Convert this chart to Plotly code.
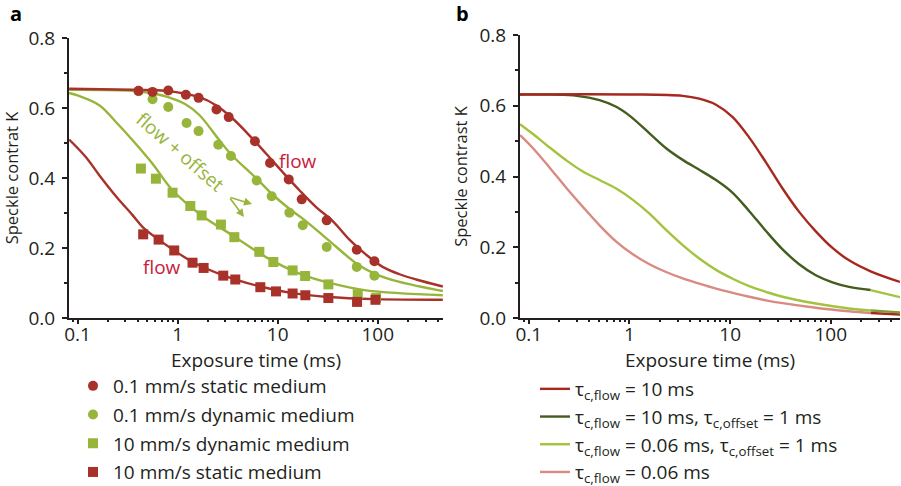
"""Speckle contrast vs exposure time — two panels (a: measured + fits, b: model curves)."""

import plotly.graph_objects as go

# ------------------------------------------------------------------
# Panel a: measured points (exposure ms, speckle contrast K)
# ------------------------------------------------------------------
t_static_slow = [0.407, 0.562, 0.807, 1.21, 1.62, 2.45, 3.24, 5.93, 8.38, 12.9, 17.4, 30.9, 61.7, 92.6]
k_static_slow = [0.649, 0.646, 0.650, 0.638, 0.629, 0.596, 0.574, 0.505, 0.443, 0.396, 0.339, 0.279, 0.195, 0.162]

t_dyn_slow = [0.407, 0.562, 0.807, 1.23, 1.62, 2.55, 3.41, 6.17, 8.71, 13.1, 17.8, 30.9, 61.7, 92.6]
k_dyn_slow = [0.648, 0.625, 0.603, 0.557, 0.534, 0.495, 0.463, 0.393, 0.348, 0.301, 0.265, 0.203, 0.146, 0.121]

t_dyn_fast = [0.43, 0.607, 0.891, 1.34, 1.74, 2.71, 3.69, 6.56, 9.05, 14.1, 18.8, 32.1, 63.1, 96.2]
k_dyn_fast = [0.427, 0.398, 0.358, 0.320, 0.293, 0.267, 0.231, 0.189, 0.160, 0.136, 0.120, 0.096, 0.068, 0.057]

t_static_fast = [0.453, 0.646, 0.926, 1.41, 1.82, 2.86, 3.77, 6.71, 9.62, 14.1, 18.9, 32.1, 62.1, 94.8]
k_static_fast = [0.239, 0.224, 0.193, 0.158, 0.143, 0.121, 0.110, 0.088, 0.076, 0.070, 0.065, 0.057, 0.046, 0.052]

# fitted curves
fit1_t = [0.0825, 0.355, 0.764, 1.65, 2.42, 3.55, 5.21, 7.64, 11.2, 16.5, 24.2, 35.5, 52.1, 76.4, 112, 165, 242, 447]
fit1_k = [0.655, 0.652, 0.649, 0.631, 0.608, 0.570, 0.522, 0.470, 0.417, 0.365, 0.317, 0.277, 0.224, 0.181, 0.146, 0.125, 0.110, 0.090]

fit2_t = [0.0825, 0.355, 0.607, 0.807, 1.21, 1.65, 2.55, 3.41, 6.17, 8.71, 13.1, 17.8, 30.9, 61.7, 92.6, 165, 447]
fit2_k = [0.652, 0.649, 0.640, 0.631, 0.610, 0.580, 0.512, 0.468, 0.398, 0.355, 0.312, 0.284, 0.227, 0.155, 0.127, 0.103, 0.077]

fit3_t = [0.0825, 0.1, 0.165, 0.242, 0.355, 0.562, 0.891, 1.74, 3.55, 7.64, 16.5, 35.5, 76.4, 447]
fit3_k = [0.643, 0.636, 0.608, 0.560, 0.508, 0.441, 0.365, 0.293, 0.236, 0.174, 0.127, 0.098, 0.079, 0.065]

fit4_t = [0.0825, 0.121, 0.165, 0.242, 0.355, 0.453, 0.646, 0.926, 1.41, 2.86, 6.71, 14.1, 32.1, 96.2, 447]
fit4_k = [0.510, 0.460, 0.408, 0.348, 0.294, 0.258, 0.224, 0.193, 0.160, 0.122, 0.090, 0.071, 0.060, 0.054, 0.052]

# ------------------------------------------------------------------
# Panel b: model curves
# ------------------------------------------------------------------
b_red_t = [0.0817, 1, 3.38, 4.94, 7.24, 10.6, 15.5, 22.7, 33.2, 48.5, 71, 104, 152, 249, 487]
b_red_k = [0.632, 0.632, 0.628, 0.620, 0.603, 0.568, 0.510, 0.440, 0.366, 0.300, 0.245, 0.198, 0.163, 0.132, 0.102]

b_dark_t = [0.0817, 0.3, 0.504, 0.738, 1, 1.58, 2.31, 3.38, 4.94, 7.24, 10.6, 15.5, 22.7, 33.2, 48.5, 71, 104, 152, 249]
b_dark_k = [0.632, 0.628, 0.616, 0.597, 0.572, 0.522, 0.480, 0.447, 0.419, 0.390, 0.354, 0.302, 0.246, 0.194, 0.152, 0.121, 0.101, 0.088, 0.079]
b_dark_tail_t = [249, 487]
b_dark_tail_k = [0.079, 0.059]

b_light_t = [0.0817, 0.11, 0.161, 0.235, 0.344, 0.504, 0.738, 1.08, 1.58, 2.31, 3.38, 4.94, 7.24, 10.6, 15.5, 22.7, 33.2, 71, 152, 249]
b_light_k = [0.548, 0.520, 0.482, 0.446, 0.414, 0.390, 0.366, 0.334, 0.295, 0.249, 0.206, 0.168, 0.136, 0.111, 0.090, 0.074, 0.060, 0.041, 0.027, 0.021]
b_light_tail_t = [249, 487]
b_light_tail_k = [0.021, 0.016]

b_pink_t = [0.0817, 0.11, 0.161, 0.235, 0.344, 0.504, 0.738, 1.08, 1.58, 2.31, 3.38, 4.94, 7.24,
            10.6, 15.5, 22.7, 33.2, 71, 152, 249]
b_pink_k = [0.517, 0.480, 0.425, 0.368, 0.314, 0.262, 0.216, 0.180, 0.152, 0.130, 0.112, 0.097, 0.083,
            0.071, 0.060, 0.050, 0.042, 0.029, 0.019, 0.014]
b_pink_tail_t = [249, 487]
b_pink_tail_k = [0.014, 0.010]

x_major = [0.1, 1, 10, 100]
x_major_text = ["0.1", "1", "10", "100"]
x_minor = [0.09, 0.2, 0.3, 0.4, 0.5, 0.6, 0.7, 0.8, 0.9, 2, 3, 4, 5, 6, 7, 8, 9,
           20, 30, 40, 50, 60, 70, 80, 90, 200, 300, 400]
y_major = [0.0, 0.2, 0.4, 0.6, 0.8]
y_major_text = ["0.0", "0.2", "0.4", "0.6", "0.8"]
y_minor = [0.1, 0.3, 0.5, 0.7]

# ------------------------------------------------------------------
# Styling
# ------------------------------------------------------------------
RED = "#A8322A"
GREEN = "#97B53B"
B_RED = "#A6281F"
B_DARK = "#445C1E"
B_LIGHT = "#A3C33E"
B_PINK = "#D98A82"
FLOW_TXT = "#C8203A"
INK = "#231F20"
FONT = "Open Sans"
FS = 19

W, H = 901, 486
A_X = [69 / W, 443 / W]
A_Y = [1 - 318 / H, 1 - 38 / H]
B_X = [520 / W, 900 / W]
B_Y = [1 - 318 / H, 1 - 35 / H]
A_RANGE = [-1.085, 2.652]
B_RANGE = [-1.088, 2.688]

fig = go.Figure()


def marker_trace(x, y, name, color, symbol, rank):
    return go.Scatter(
        x=x, y=y, name=name, mode="markers",
        marker=dict(color=color, symbol=symbol, size=10, line_width=0),
        xaxis="x", yaxis="y", legend="legend", legendrank=rank, legendgroup=name,
    )


def line_trace(x, y, color, xa="x", ya="y", name=None, legend="legend", rank=1000):
    return go.Scatter(
        x=x, y=y, mode="lines", name=name,
        line=dict(color=color, width=2.4, shape="spline", smoothing=1.0),
        xaxis=xa, yaxis=ya, legend=legend, legendrank=rank,
        showlegend=name is not None,
    )


# panel a fits (under markers)
fig.add_trace(line_trace(fit3_t, fit3_k, GREEN))
fig.add_trace(line_trace(fit4_t, fit4_k, RED))
fig.add_trace(line_trace(fit2_t, fit2_k, GREEN))
fig.add_trace(line_trace(fit1_t, fit1_k, RED))

fig.add_trace(marker_trace(t_dyn_slow, k_dyn_slow, "0.1 mm/s dynamic medium", GREEN, "circle", 2))
fig.add_trace(marker_trace(t_static_slow, k_static_slow, "0.1 mm/s static medium", RED, "circle", 1))
fig.add_trace(marker_trace(t_dyn_fast, k_dyn_fast, "10 mm/s dynamic medium", GREEN, "square", 3))
fig.add_trace(marker_trace(t_static_fast, k_static_fast, "10 mm/s static medium", RED, "square", 4))

# panel b curves
fig.add_trace(line_trace(b_pink_t, b_pink_k, B_PINK, "x2", "y2",
                         "τ<sub>c,flow</sub> = 0.06 ms", "legend2", 4))
fig.add_trace(line_trace(b_pink_tail_t, b_pink_tail_k, B_RED, "x2", "y2"))
fig.add_trace(line_trace(b_light_t, b_light_k, B_LIGHT, "x2", "y2",
                         "τ<sub>c,flow</sub> = 0.06 ms, τ<sub>c,offset</sub> = 1 ms", "legend2", 3))
fig.add_trace(line_trace(b_light_tail_t, b_light_tail_k, "#7E9C30", "x2", "y2"))
fig.add_trace(line_trace(b_dark_t, b_dark_k, B_DARK, "x2", "y2",
                         "τ<sub>c,flow</sub> = 10 ms, τ<sub>c,offset</sub> = 1 ms", "legend2", 2))
fig.add_trace(line_trace(b_dark_tail_t, b_dark_tail_k, B_LIGHT, "x2", "y2"))
fig.add_trace(line_trace(b_red_t, b_red_k, B_RED, "x2", "y2",
                         "τ<sub>c,flow</sub> = 10 ms", "legend2", 1))

# ------------------------------------------------------------------
# Axes
# ------------------------------------------------------------------
tickfont = dict(family=FONT, size=FS, color=INK)


def x_axis(domain, rng, anchor, title):
    return dict(
        type="log", domain=domain, range=rng, anchor=anchor,
        tickvals=x_major, ticktext=x_major_text, tickfont=tickfont,
        ticks="outside", ticklen=4, tickwidth=1.5, tickcolor=INK, ticklabelstandoff=-6,
        minor=dict(tickvals=x_minor, ticks="outside", ticklen=2, tickwidth=1.5, tickcolor=INK),
        showline=True, linecolor=INK, linewidth=2, showgrid=False, zeroline=False,
        automargin=False,
        title=dict(text=title, font=dict(family=FONT, size=FS, color=INK), standoff=0),
    )


def y_axis(domain, anchor, title):
    return dict(
        domain=domain, range=[0, 0.8], anchor=anchor,
        tickvals=y_major, ticktext=y_major_text, tickfont=tickfont,
        ticks="outside", ticklen=5, tickwidth=1.5, tickcolor=INK, ticklabelstandoff=3,
        minor=dict(tickvals=y_minor, ticks="outside", ticklen=3, tickwidth=1.5, tickcolor=INK),
        showline=True, linecolor=INK, linewidth=2, showgrid=False, zeroline=False,
        automargin=False,
        title=dict(text=title, font=dict(family=FONT, size=16.5, color=INK), standoff=8),
    )


def top_axis(overlay, rng, anchor):
    return dict(
        type="log", range=rng, overlaying=overlay, side="top", anchor=anchor,
        tickvals=x_major, showticklabels=False, automargin=False,
        ticks="inside", ticklen=4, tickwidth=1.5, tickcolor=INK,
        minor=dict(tickvals=x_minor, ticks="inside", ticklen=2, tickwidth=1.5, tickcolor=INK),
        showline=True, linecolor=INK, linewidth=2, showgrid=False, zeroline=False,
    )


def right_axis(overlay, anchor, line=True):
    return dict(
        range=[0, 0.8], overlaying=overlay, side="right", anchor=anchor,
        tickvals=y_major[1:-1], showticklabels=False, automargin=False,
        ticks="inside", ticklen=5, tickwidth=1.5, tickcolor=INK,
        minor=dict(tickvals=y_minor, ticks="inside", ticklen=3, tickwidth=1.5, tickcolor=INK),
        showline=line, linecolor=INK, linewidth=2, showgrid=False, zeroline=False,
    )


fig.update_layout(
    xaxis=x_axis(A_X, A_RANGE, "y", "Exposure time (ms)"),
    yaxis=y_axis(A_Y, "x", "Speckle contrat K"),
    xaxis2=x_axis(B_X, B_RANGE, "y2", "Exposure time (ms)"),
    yaxis2=y_axis(B_Y, "x2", "Speckle contrast K"),
    xaxis3=top_axis("x", A_RANGE, "y"),
    yaxis3=right_axis("y", "x"),
    xaxis4=top_axis("x2", B_RANGE, "y2"),
    yaxis4=right_axis("y2", "x2", line=False),
)

# ------------------------------------------------------------------
# Annotations
# ------------------------------------------------------------------
ann_font = dict(family=FONT, size=FS)
fig.add_annotation(text="flow", x=1.2, y=0.449, xref="x", yref="y", showarrow=False,
                   font=dict(color=FLOW_TXT, **ann_font))
fig.add_annotation(text="flow", x=-0.16, y=0.146, xref="x", yref="y", showarrow=False,
                   font=dict(color=FLOW_TXT, **ann_font))
fig.add_annotation(text="flow + offset", x=0.03, y=0.475, xref="x", yref="y", showarrow=False,
                   textangle=41, font=dict(color=GREEN, **ann_font))
for hx, hy, ax, ay in [(252, 204, -23, -7), (244, 217, -15, -20)]:
    fig.add_annotation(text="", x=hx / W, y=1 - hy / H, xref="paper", yref="paper",
                       ax=ax, ay=ay, showarrow=True, arrowhead=2, arrowsize=1,
                       arrowwidth=1.6, arrowcolor=GREEN)

for label, px in [("a", 16), ("b", 462)]:
    fig.add_annotation(text=f"<b>{label}</b>", x=px / W, y=1 - 14 / H, xref="paper", yref="paper",
                       xanchor="center", yanchor="middle", showarrow=False,
                       font=dict(family=FONT, size=20, color="black"))

# ------------------------------------------------------------------
# Layout / legends
# ------------------------------------------------------------------
fig.update_layout(
    width=W, height=H,
    margin=dict(l=0, r=0, t=0, b=0, pad=0, autoexpand=False),
    paper_bgcolor="white", plot_bgcolor="white",
    font=dict(family=FONT, size=FS, color=INK),
    showlegend=True,
    legend=dict(x=73 / W, y=1 - 367 / H, xanchor="left", yanchor="top",
                traceorder="grouped", tracegroupgap=1,
                font=dict(family=FONT, size=FS, color=INK),
                bgcolor="rgba(0,0,0,0)", itemclick=False),
    legend2=dict(x=535 / W, y=1 - 370 / H, xanchor="left", yanchor="top",
                 font=dict(family=FONT, size=FS, color=INK),
                 bgcolor="rgba(0,0,0,0)", itemclick=False, tracegroupgap=0),
)

fig.write_html("out.html", config={"displayModeBar": False},
               post_script="document.body.style.margin='0';")
